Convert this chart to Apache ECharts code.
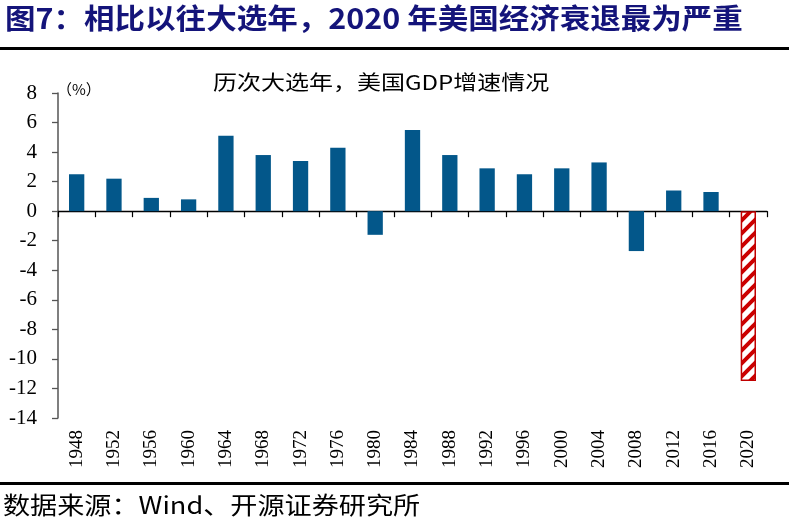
<!DOCTYPE html>
<html><head><meta charset="utf-8">
<script src="https://cdn.jsdelivr.net/npm/echarts@6/dist/echarts.min.js"></script>
<style>html,body{margin:0;padding:0;background:#fff}#c{width:789px;height:530px}</style>
</head><body><div id="c"></div>
<script>
var years = ['1948','1952','1956','1960','1964','1968','1972','1976','1980','1984','1988','1992','1996','2000','2004','2008','2012','2016','2020'];
var gdpGrowth = [2.5, 2.2, 0.9, 0.8, 5.1, 3.8, 3.4, 4.3, -1.6, 5.5, 3.8, 2.9, 2.5, 2.9, 3.3, -2.7, 1.4, 1.3, -11.5];
var highlightYear = '2020';
var yTicks = [-14, 8, 2];

var T = 13;
var stripe = document.createElement('canvas');
stripe.width = T; stripe.height = T;
var ctx = stripe.getContext('2d');
ctx.fillStyle = '#ffffff'; ctx.fillRect(0,0,T,T);
ctx.strokeStyle = '#cc0000'; ctx.lineWidth = 4;
ctx.beginPath();
for (var k = -1; k <= 1; k++) {
  ctx.moveTo(-3 + k*T, T + 3); ctx.lineTo(T + 3 + k*T, -3);
}
ctx.stroke();

var data = gdpGrowth.map(function(v,i){
  if (years[i] === highlightYear) {
    return {value: v, itemStyle: {color: {image: stripe, repeat: 'repeat'}, borderColor: '#c00000', borderWidth: 1.5}};
  }
  return v;
});

var serif = 'Liberation Serif';
var chart = echarts.init(document.getElementById('c'));
chart.setOption({
  animation: false,
  backgroundColor: '#fff',
  grid: {left: 58, right: 22, top: 93, bottom: 112},
  xAxis: [{
    type: 'category', data: years, position: 'bottom',
    axisLine: {show: false, onZero: false}, axisTick: {show: false},
    axisLabel: {rotate: 90, margin: 12, color: '#000', fontSize: 19, fontFamily: serif}
  },{
    type: 'category', data: years, position: 'bottom',
    axisLine: {show: true, onZero: true, lineStyle: {color: '#000', width: 1.3}},
    axisTick: {show: true, inside: false, length: 6, lineStyle: {color: '#000', width: 1.2}},
    axisLabel: {show: false}
  }],
  yAxis: {
    type: 'value', min: yTicks[0], max: yTicks[1], interval: yTicks[2],
    splitLine: {show: false},
    axisLine: {show: true, onZero: false, lineStyle: {color: '#555', width: 1.5}},
    axisTick: {show: true, length: 6, lineStyle: {color: '#555', width: 1.3}},
    axisLabel: {color: '#000', fontSize: 21, fontFamily: serif, margin: 21}
  },
  series: [{
    type: 'bar', xAxisIndex: 0, data: data, barWidth: '41%',
    itemStyle: {color: '#03578a'}
  }],
  graphic: [
    {type: 'text', x: 5, y: 4, scaleX: 1.09, style: {text: '图7：相比以往大选年，2020 年美国经济衰退最为严重', fill: '#14147a', font: 'bold 28px "Noto Sans CJK SC", serif'}},
    {type: 'rect', shape: {x: 0, y: 47, width: 789, height: 3}, style: {fill: '#000'}},
    {type: 'text', x: 57, y: 82, style: {text: '（%）', fill: '#000', font: '15px "Noto Sans CJK SC", serif'}},
    {type: 'text', x: 213, y: 72, scaleX: 1.2, style: {text: '历次大选年，美国GDP增速情况', fill: '#000', font: '20px "Noto Sans CJK SC", serif'}},
    {type: 'rect', shape: {x: 0, y: 482, width: 789, height: 3}, style: {fill: '#000'}},
    {type: 'text', x: 3, y: 493, scaleX: 1.13, style: {text: '数据来源：Wind、开源证券研究所', fill: '#000', font: '24px "Noto Sans CJK SC", serif'}}
  ]
});
</script></body></html>
